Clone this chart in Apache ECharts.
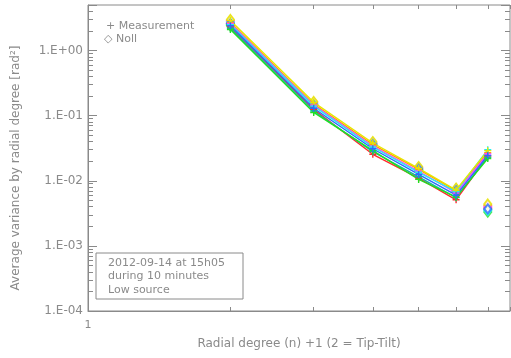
<!DOCTYPE html>
<html><head><meta charset="utf-8">
<script src="https://cdn.jsdelivr.net/npm/echarts@6/dist/echarts.min.js"></script>
<style>html,body{margin:0;padding:0;background:#fff}#c{width:511px;height:358px}</style>
</head><body><div id="c"></div>
<script>
const degrees = [2, 3, 4, 5, 6, 7];
const seriesNames = ['red', 'teal', 'green', 'orange', 'magenta', 'cyan', 'yellow', 'blue'];
const colors = ['#ff2a2a', '#10b8a0', '#22e022', '#ffa500', '#ff40ff', '#22f0f0', '#e6e600', '#2a6cff'];
const measRed     = [2.30, 0.125, 0.0255, 0.0110, 0.0051, 0.0240];
const measTeal    = [2.20, 0.118, 0.0280, 0.0115, 0.0055, 0.0230];
const measGreen   = [2.10, 0.112, 0.0290, 0.0105, 0.0056, 0.0220];
const measOrange  = [2.70, 0.150, 0.0360, 0.0150, 0.0070, 0.0270];
const measMagenta = [2.60, 0.145, 0.0340, 0.0140, 0.0065, 0.0260];
const measCyan    = [2.50, 0.140, 0.0330, 0.0135, 0.0068, 0.0300];
const measYellow  = [2.90, 0.160, 0.0380, 0.0155, 0.0072, 0.0290];
const measBlue    = [2.40, 0.130, 0.0310, 0.0125, 0.0060, 0.0245];
const nollRed     = [2.60, 0.150, 0.0370, 0.0155, 0.0072, 0.0038];
const nollTeal    = [2.50, 0.145, 0.0360, 0.0150, 0.0070, 0.0036];
const nollGreen   = [2.40, 0.140, 0.0350, 0.0145, 0.0068, 0.0033];
const nollOrange  = [2.90, 0.160, 0.0390, 0.0160, 0.0075, 0.0042];
const nollMagenta = [2.80, 0.155, 0.0380, 0.0158, 0.0074, 0.0040];
const nollCyan    = [2.70, 0.150, 0.0375, 0.0155, 0.0073, 0.0035];
const nollYellow  = [3.00, 0.165, 0.0400, 0.0165, 0.0077, 0.0044];
const nollBlue    = [2.60, 0.145, 0.0360, 0.0150, 0.0070, 0.0037];
const measAll = [measRed, measTeal, measGreen, measOrange, measMagenta, measCyan, measYellow, measBlue];
const nollAll = [nollRed, nollTeal, nollGreen, nollOrange, nollMagenta, nollCyan, nollYellow, nollBlue];
const xTickValues = [2, 3, 4, 5, 6, 7];
const yTickMultipliers = [1, 2, 3, 4, 5, 6, 7, 8, 9];
const X_MIN = 1, X_MAX = 7.8, Y_MIN = 1e-4, Y_MAX = 5;

const gray = '#8a8a8a';
const font = 'DejaVu Sans';
const plus = 'path://M4,0h2v4h4v2h-4v4h-2v-4h-4v-2h4z';

const series = [];
measAll.forEach((arr, i) => {
  series.push({
    type: 'line', name: seriesNames[i] + ' meas',
    data: degrees.map((d, k) => [d, arr[k]]),
    symbol: plus, symbolSize: 7, showAllSymbol: true,
    lineStyle: { color: colors[i], width: 1.4 },
    itemStyle: { color: colors[i] }
  });
});
nollAll.forEach((arr, i) => {
  series.push({
    type: 'scatter', name: seriesNames[i] + ' noll',
    data: degrees.map((d, k) => [d, arr[k]]),
    symbol: 'emptyDiamond', symbolSize: [7, 9],
    itemStyle: { color: colors[i], borderColor: colors[i], borderWidth: 1.5 }
  });
});

// main axes (labels), plus tick-only log axes whose decade ticks land on the wanted values
const xAxes = [{
  type: 'log', logBase: 10, min: X_MIN, max: X_MAX,
  name: 'Radial degree (n) +1 (2 = Tip-Tilt)', nameLocation: 'middle', nameGap: 27,
  nameTextStyle: { color: gray, fontFamily: font, fontSize: 12 },
  axisLine: { lineStyle: { color: gray }, onZero: false }, axisTick: { show: false }, splitLine: { show: false },
  axisLabel: { color: gray, fontFamily: font, fontSize: 11, margin: 9, showMaxLabel: false,
    formatter: v => (Math.abs(v - 1) < 1e-9 ? '1' : '') }
}];
const yAxes = [{
  type: 'log', logBase: 10, min: Y_MIN, max: Y_MAX,
  axisLine: { lineStyle: { color: gray }, onZero: false }, axisTick: { show: false }, splitLine: { show: false },
  axisLabel: { color: gray, fontFamily: font, fontSize: 12, margin: 5, showMaxLabel: false,
    formatter: v => {
      const lg = Math.log10(v), e = Math.round(lg);
      if (Math.abs(lg - e) > 1e-6) return '';
      return '1.E' + (e < 0 ? '-' : '+') + String(Math.abs(e)).padStart(2, '0');
    } }
}];
const tickAxis = (min, max, position, len) => ({
  type: 'log', logBase: 10, min: min, max: max, position: position, offset: 0, splitNumber: 1,
  axisLine: { show: false, onZero: false }, axisLabel: { show: false }, splitLine: { show: false },
  axisTick: { show: true, inside: true, length: len, lineStyle: { color: gray, width: 1 } }
});
xTickValues.forEach(v => {
  xAxes.push(tickAxis(X_MIN / v, X_MAX / v, 'bottom', 4));
  xAxes.push(tickAxis(X_MIN / v, X_MAX / v, 'top', 4));
});
yTickMultipliers.forEach(m => {
  const len = m === 1 ? 9 : 5;
  const a = tickAxis(Y_MIN / m, Y_MAX / m, 'left', len); a.splitNumber = 5;
  const b = tickAxis(Y_MIN / m, Y_MAX / m, 'right', len); b.splitNumber = 5;
  yAxes.push(a, b);
});

const chart = echarts.init(document.getElementById('c'), null, { renderer: 'canvas' });
chart.setOption({
  animation: false,
  grid: { left: 88, right: 1, top: 5, bottom: 47, show: true, borderColor: gray, borderWidth: 1 },
  xAxis: xAxes,
  yAxis: yAxes,
  graphic: [
    { type: 'text', left: 106, top: 21, style: { text: '+ Measurement', fill: gray, font: '11px "DejaVu Sans"' } },
    { type: 'text', left: 104, top: 34, style: { text: '◇ Noll', fill: gray, font: '11px "DejaVu Sans"' } },
    { type: 'rect', shape: { x: 96, y: 253, width: 147, height: 46 }, style: { fill: 'none', stroke: gray, lineWidth: 1 } },
    { type: 'text', x: 108, y: 256, style: { text: '2012-09-14 at 15h05\nduring 10 minutes\nLow source', fill: gray, font: '11px "DejaVu Sans"', lineHeight: 13.5 } },
    { type: 'text', x: 16, y: 168, rotation: Math.PI / 2,
      style: { text: 'Average variance by radial degree [rad²]', fill: gray, font: '12px "DejaVu Sans"', align: 'center', verticalAlign: 'middle' } }
  ],
  series: series
});
</script></body></html>
